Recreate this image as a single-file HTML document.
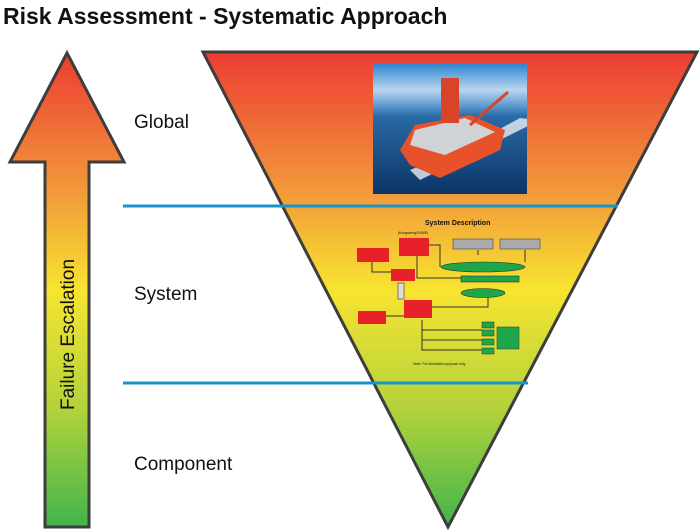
<!DOCTYPE html>
<html><head><style>
html,body{margin:0;padding:0;background:#fff;width:700px;height:531px;overflow:hidden}
text{font-family:"Liberation Sans",sans-serif}
</style></head><body>
<svg width="700" height="531" viewBox="0 0 700 531" xmlns="http://www.w3.org/2000/svg">
<defs>
<linearGradient id="g" x1="0" y1="52" x2="0" y2="528" gradientUnits="userSpaceOnUse">
<stop offset="0" stop-color="#ec3c33"/>
<stop offset="0.3" stop-color="#f29b3a"/>
<stop offset="0.5" stop-color="#f7e430"/>
<stop offset="0.75" stop-color="#b3d23c"/>
<stop offset="1" stop-color="#3fb54a"/>
</linearGradient>
<linearGradient id="sea" x1="0" y1="0" x2="0" y2="1">
<stop offset="0" stop-color="#2f86d0"/><stop offset="0.2" stop-color="#b9d6ee"/><stop offset="0.32" stop-color="#5d9bd0"/><stop offset="0.4" stop-color="#2a6aa6"/><stop offset="1" stop-color="#0b3566"/>
</linearGradient>
<clipPath id="pc"><rect x="373" y="64" width="154" height="130"/></clipPath>
</defs>
<text x="3" y="24" font-size="23" font-weight="bold" fill="#111">Risk Assessment - Systematic Approach</text>
<polygon points="67,53 124,162 89,162 89,527 45,527 45,162 10,162" fill="url(#g)" stroke="#3d3d3d" stroke-width="3"/>
<text x="0" y="0" transform="translate(74,410) rotate(-90)" font-size="19" fill="#111">Failure Escalation</text>
<polygon points="203,52 697,52 448,527" fill="url(#g)" stroke="#3d3d3d" stroke-width="3"/>
<text x="134" y="128" font-size="19" fill="#111">Global</text>
<text x="134" y="300" font-size="19" fill="#111">System</text>
<text x="134" y="470" font-size="19" fill="#111">Component</text>
<line x1="123" y1="206" x2="618" y2="206" stroke="#1a94c7" stroke-width="3"/>
<line x1="123" y1="383" x2="528" y2="383" stroke="#1a94c7" stroke-width="3"/>
<g clip-path="url(#pc)">
<rect x="373" y="64" width="154" height="130" fill="url(#sea)"/>
<polygon points="420,180 480,150 540,120 520,118 470,145 410,170" fill="#e9eef2" opacity="0.8"/>
<polygon points="415,125 470,115 505,130 500,150 440,178 410,165 400,150" fill="#e8522a"/>
<polygon points="415,130 465,118 495,132 445,155 410,145" fill="#cfd3d6"/>
<rect x="441" y="78" width="18" height="45" fill="#d84428"/>
<line x1="470" y1="125" x2="508" y2="92" stroke="#d84428" stroke-width="3"/>
</g>
<g font-size="5" fill="#111">
<text x="425" y="225" font-size="7" font-weight="bold">System Description</text>
<g stroke="#333" stroke-width="1" fill="none">
<path d="M372,262 V272 H395"/><path d="M365,316 H404"/>
<path d="M417,252 V278 H462"/><path d="M428,245 H440 V267"/>
<path d="M478,250 V255 M525,250 V262"/>
<path d="M431,307 H488 V290"/>
<path d="M422,320 V350 H482 M422,330 H482 M422,340 H482 M422,350 H482"/>
</g>
<rect x="357" y="248" width="32" height="14" fill="#e8202a"/>
<rect x="399" y="238" width="30" height="18" fill="#e8202a"/>
<rect x="391" y="269" width="24" height="12" fill="#e8202a"/>
<rect x="404" y="300" width="28" height="18" fill="#e8202a"/>
<rect x="358" y="311" width="28" height="13" fill="#e8202a"/>
<rect x="453" y="239" width="40" height="10" fill="#aaa" stroke="#555" stroke-width="0.7"/>
<rect x="500" y="239" width="40" height="10" fill="#aaa" stroke="#555" stroke-width="0.7"/>
<ellipse cx="483" cy="267" rx="42" ry="5" fill="#1ea64a" stroke="#333" stroke-width="0.6"/>
<rect x="461" y="276" width="58" height="6" fill="#1ea64a" stroke="#333" stroke-width="0.6"/>
<ellipse cx="483" cy="293" rx="22" ry="4.5" fill="#1ea64a" stroke="#333" stroke-width="0.6"/>
<rect x="482" y="322" width="12" height="6" fill="#1ea64a" stroke="#333" stroke-width="0.5"/>
<rect x="482" y="330" width="12" height="6" fill="#1ea64a" stroke="#333" stroke-width="0.5"/>
<rect x="482" y="339" width="12" height="6" fill="#1ea64a" stroke="#333" stroke-width="0.5"/>
<rect x="482" y="348" width="12" height="6" fill="#1ea64a" stroke="#333" stroke-width="0.5"/>
<rect x="497" y="327" width="22" height="22" fill="#1ea64a" stroke="#333" stroke-width="0.5"/>
<rect x="398" y="283" width="6" height="16" fill="#ddd" stroke="#333" stroke-width="0.6"/>
<text x="398" y="234" font-size="3.5">(Kongsberg/DSME)</text>
<text x="413" y="365" font-size="3.5">Note: For Illustration purpose only</text>
</g>
</svg>
</body></html>
